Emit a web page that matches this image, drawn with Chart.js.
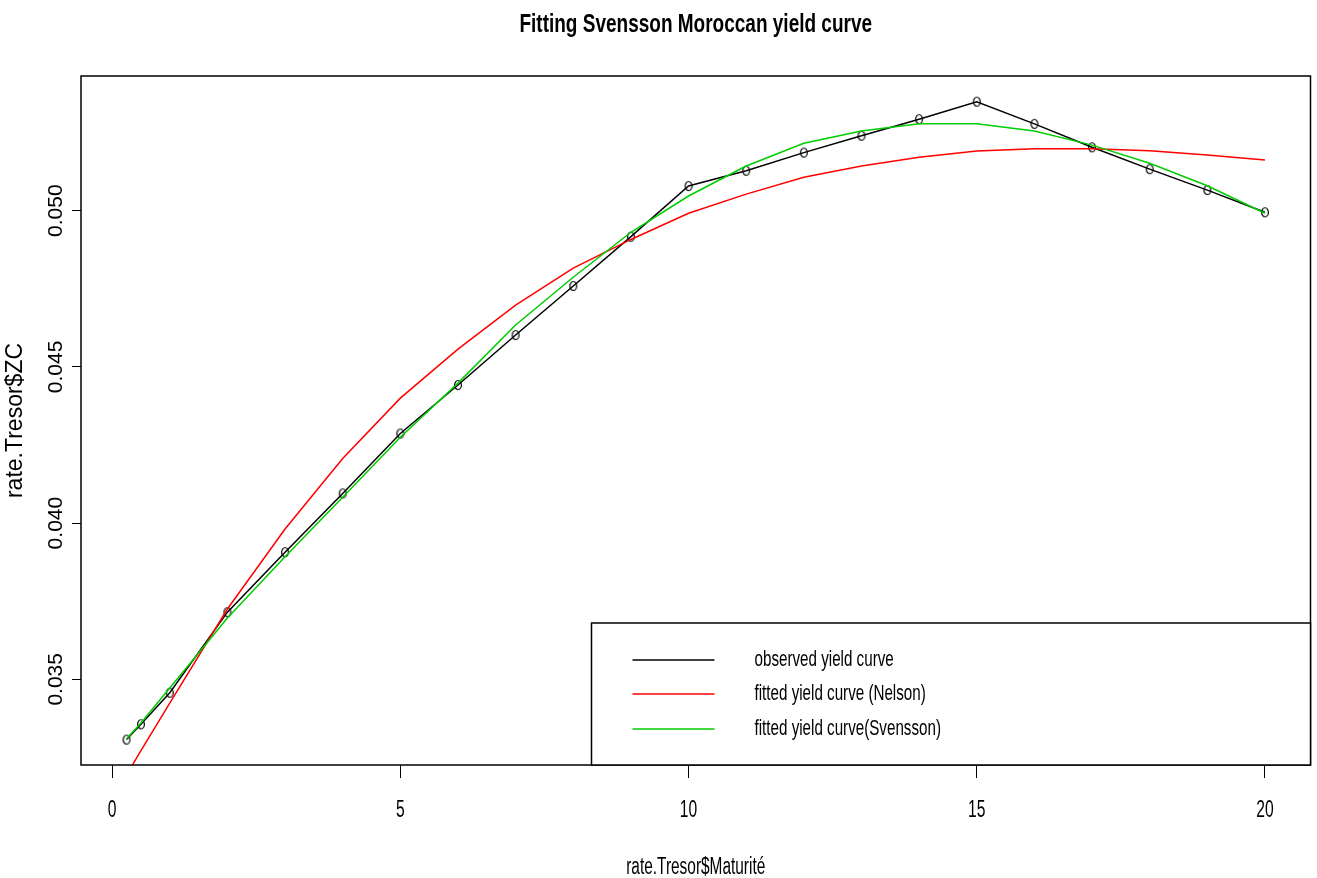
<!DOCTYPE html>
<html>
<head>
<meta charset="utf-8">
<script src="https://cdn.jsdelivr.net/npm/chart.js@4.4.1/dist/chart.umd.min.js"></script>
<style>
  html, body { margin: 0; padding: 0; background: #ffffff; }
  canvas { display: block; }
</style>
</head>
<body>
<canvas id="c" width="1317" height="878"></canvas>
<script>
// ---- data ----
const maturities   = [0.25, 0.5, 1, 2, 3, 4, 5, 6, 7, 8, 9, 10, 11, 12, 13, 14, 15, 16, 17, 18, 19, 20];
const observedZC   = [0.03307, 0.03356, 0.03457, 0.03715, 0.03907, 0.04095, 0.04287, 0.04442, 0.04602, 0.04759, 0.04917,
                      0.05079, 0.05128, 0.05186, 0.05240, 0.05293, 0.05349, 0.05278, 0.05203, 0.05133, 0.05066, 0.04995];
const nelsonZC     = [0.03194, 0.03272, 0.03424, 0.03725, 0.03981, 0.04207, 0.04400, 0.04557, 0.04698, 0.04816, 0.04908,
                      0.04992, 0.05053, 0.05107, 0.05143, 0.05171, 0.05191, 0.05198, 0.05198, 0.05192, 0.05178, 0.05162];
const svenssonZC   = [0.03310, 0.03360, 0.03472, 0.03696, 0.03892, 0.04083, 0.04275, 0.04448, 0.04634, 0.04787, 0.04931,
                      0.05047, 0.05143, 0.05216, 0.05255, 0.05278, 0.05278, 0.05255, 0.05210, 0.05152, 0.05080, 0.04992];
const xTickValues  = [0, 5, 10, 15, 20];
const xTickLabels  = ['0', '5', '10', '15', '20'];
const yTickValues  = [0.035, 0.040, 0.045, 0.050];
const yTickLabels  = ['0.035', '0.040', '0.045', '0.050'];
const seriesLabels = ['observed yield curve', 'fitted yield curve (Nelson)', 'fitted yield curve(Svensson)'];
const seriesColors = ['#000000', '#ff0000', '#00cd00'];
const chartTitle   = 'Fitting Svensson Moroccan yield curve';
const xAxisTitle   = 'rate.Tresor$Maturité';
const yAxisTitle   = 'rate.Tresor$ZC';

const toXY = (ys) => maturities.map((m, i) => ({ x: m, y: ys[i] }));

// open ellipse marker (R pch=1 look)
function makeMarker() {
  const c = document.createElement('canvas');
  c.width = 10; c.height = 12;
  const g = c.getContext('2d');
  g.strokeStyle = '#000';
  g.lineWidth = 1.2;
  g.beginPath();
  g.ellipse(5, 6, 3.4, 4.5, 0, 0, Math.PI * 2);
  g.stroke();
  return c;
}
const marker = makeMarker();

const FONT = '"Liberation Sans", Arimo, Arial, Helvetica, sans-serif';

function drawText(ctx, s, x, y, o) {
  ctx.save();
  ctx.translate(x, y);
  if (o.rot) ctx.rotate(o.rot);
  ctx.scale(o.sx || 1, 1);
  ctx.font = o.font;
  ctx.fillStyle = '#000';
  ctx.textAlign = o.align || 'center';
  ctx.textBaseline = o.baseline || 'alphabetic';
  ctx.fillText(s, 0, 0);
  ctx.restore();
}

const rDecor = {
  id: 'rDecor',
  afterDraw(chart) {
    const ctx = chart.ctx;
    const a = chart.chartArea;
    const xs = chart.scales.x, ys = chart.scales.y;

    // plot box
    ctx.save();
    ctx.strokeStyle = '#000';
    ctx.lineWidth = 1.5;
    ctx.strokeRect(a.left, a.top, a.right - a.left, a.bottom - a.top);
    ctx.restore();

    // legend (bottom right, inside plot)
    const lx = a.right - 719, ly = a.bottom - 142;
    ctx.save();
    ctx.fillStyle = '#fff';
    ctx.fillRect(lx, ly, a.right - lx, a.bottom - ly);
    ctx.strokeStyle = '#000';
    ctx.lineWidth = 1.5;
    ctx.strokeRect(lx, ly, a.right - lx, a.bottom - ly);
    const rowY = [ly + 37, ly + 71, ly + 106];
    seriesLabels.forEach((lab, i) => {
      ctx.strokeStyle = seriesColors[i];
      ctx.lineWidth = 1.5;
      ctx.beginPath();
      ctx.moveTo(lx + 41, rowY[i]);
      ctx.lineTo(lx + 123, rowY[i]);
      ctx.stroke();
      drawText(ctx, lab, lx + 163, rowY[i], { font: '22px ' + FONT, sx: 0.69, align: 'left', baseline: 'middle' });
    });
    ctx.restore();

    // x tick labels
    xTickValues.forEach((v, i) => {
      drawText(ctx, xTickLabels[i], xs.getPixelForValue(v), 817, { font: '23px ' + FONT, sx: 0.68 });
    });
    // y tick labels (rotated)
    yTickValues.forEach((v, i) => {
      drawText(ctx, yTickLabels[i], 62, ys.getPixelForValue(v), { font: '21px ' + FONT, rot: -Math.PI / 2 });
    });
    // axis titles
    drawText(ctx, xAxisTitle, (a.left + a.right) / 2, 874, { font: '23px ' + FONT, sx: 0.67 });
    drawText(ctx, yAxisTitle, 22, (a.top + a.bottom) / 2, { font: '23px ' + FONT, rot: -Math.PI / 2 });
    // title
    drawText(ctx, chartTitle, (a.left + a.right) / 2, 32, { font: 'bold 25px ' + FONT, sx: 0.76 });
  }
};

new Chart(document.getElementById('c'), {
  type: 'scatter',
  data: {
    datasets: [
      {
        label: seriesLabels[0], data: toXY(observedZC), showLine: true,
        borderColor: seriesColors[0], borderWidth: 1.5,
        pointStyle: marker, pointRadius: 5, pointHoverRadius: 5, order: 3
      },
      {
        label: seriesLabels[1], data: toXY(nelsonZC), showLine: true,
        borderColor: seriesColors[1], borderWidth: 1.5, pointRadius: 0, order: 2
      },
      {
        label: seriesLabels[2], data: toXY(svenssonZC), showLine: true,
        borderColor: seriesColors[2], borderWidth: 1.5, pointRadius: 0, order: 1
      }
    ]
  },
  options: {
    responsive: false,
    animation: false,
    devicePixelRatio: 1,
    layout: { padding: { top: 76, left: 0, right: 5, bottom: 0 } },
    plugins: { legend: { display: false }, title: { display: false }, tooltip: { enabled: false } },
    scales: {
      x: {
        type: 'linear', min: -0.54, max: 20.79,
        afterBuildTicks: (s) => { s.ticks = xTickValues.map(v => ({ value: v })); },
        afterFit: (s) => { s.height = 113; },
        ticks: { display: false },
        grid: { display: true, drawOnChartArea: false, drawTicks: true, tickLength: 13, color: '#000', lineWidth: 1 },
        border: { display: false }
      },
      y: {
        type: 'linear', min: 0.032257, max: 0.054312,
        afterBuildTicks: (s) => { s.ticks = yTickValues.map(v => ({ value: v })); },
        afterFit: (s) => { s.width = 81; },
        ticks: { display: false },
        grid: { display: true, drawOnChartArea: false, drawTicks: true, tickLength: 9, color: '#000', lineWidth: 1 },
        border: { display: false }
      }
    }
  },
  plugins: [rDecor]
});
</script>
</body>
</html>
